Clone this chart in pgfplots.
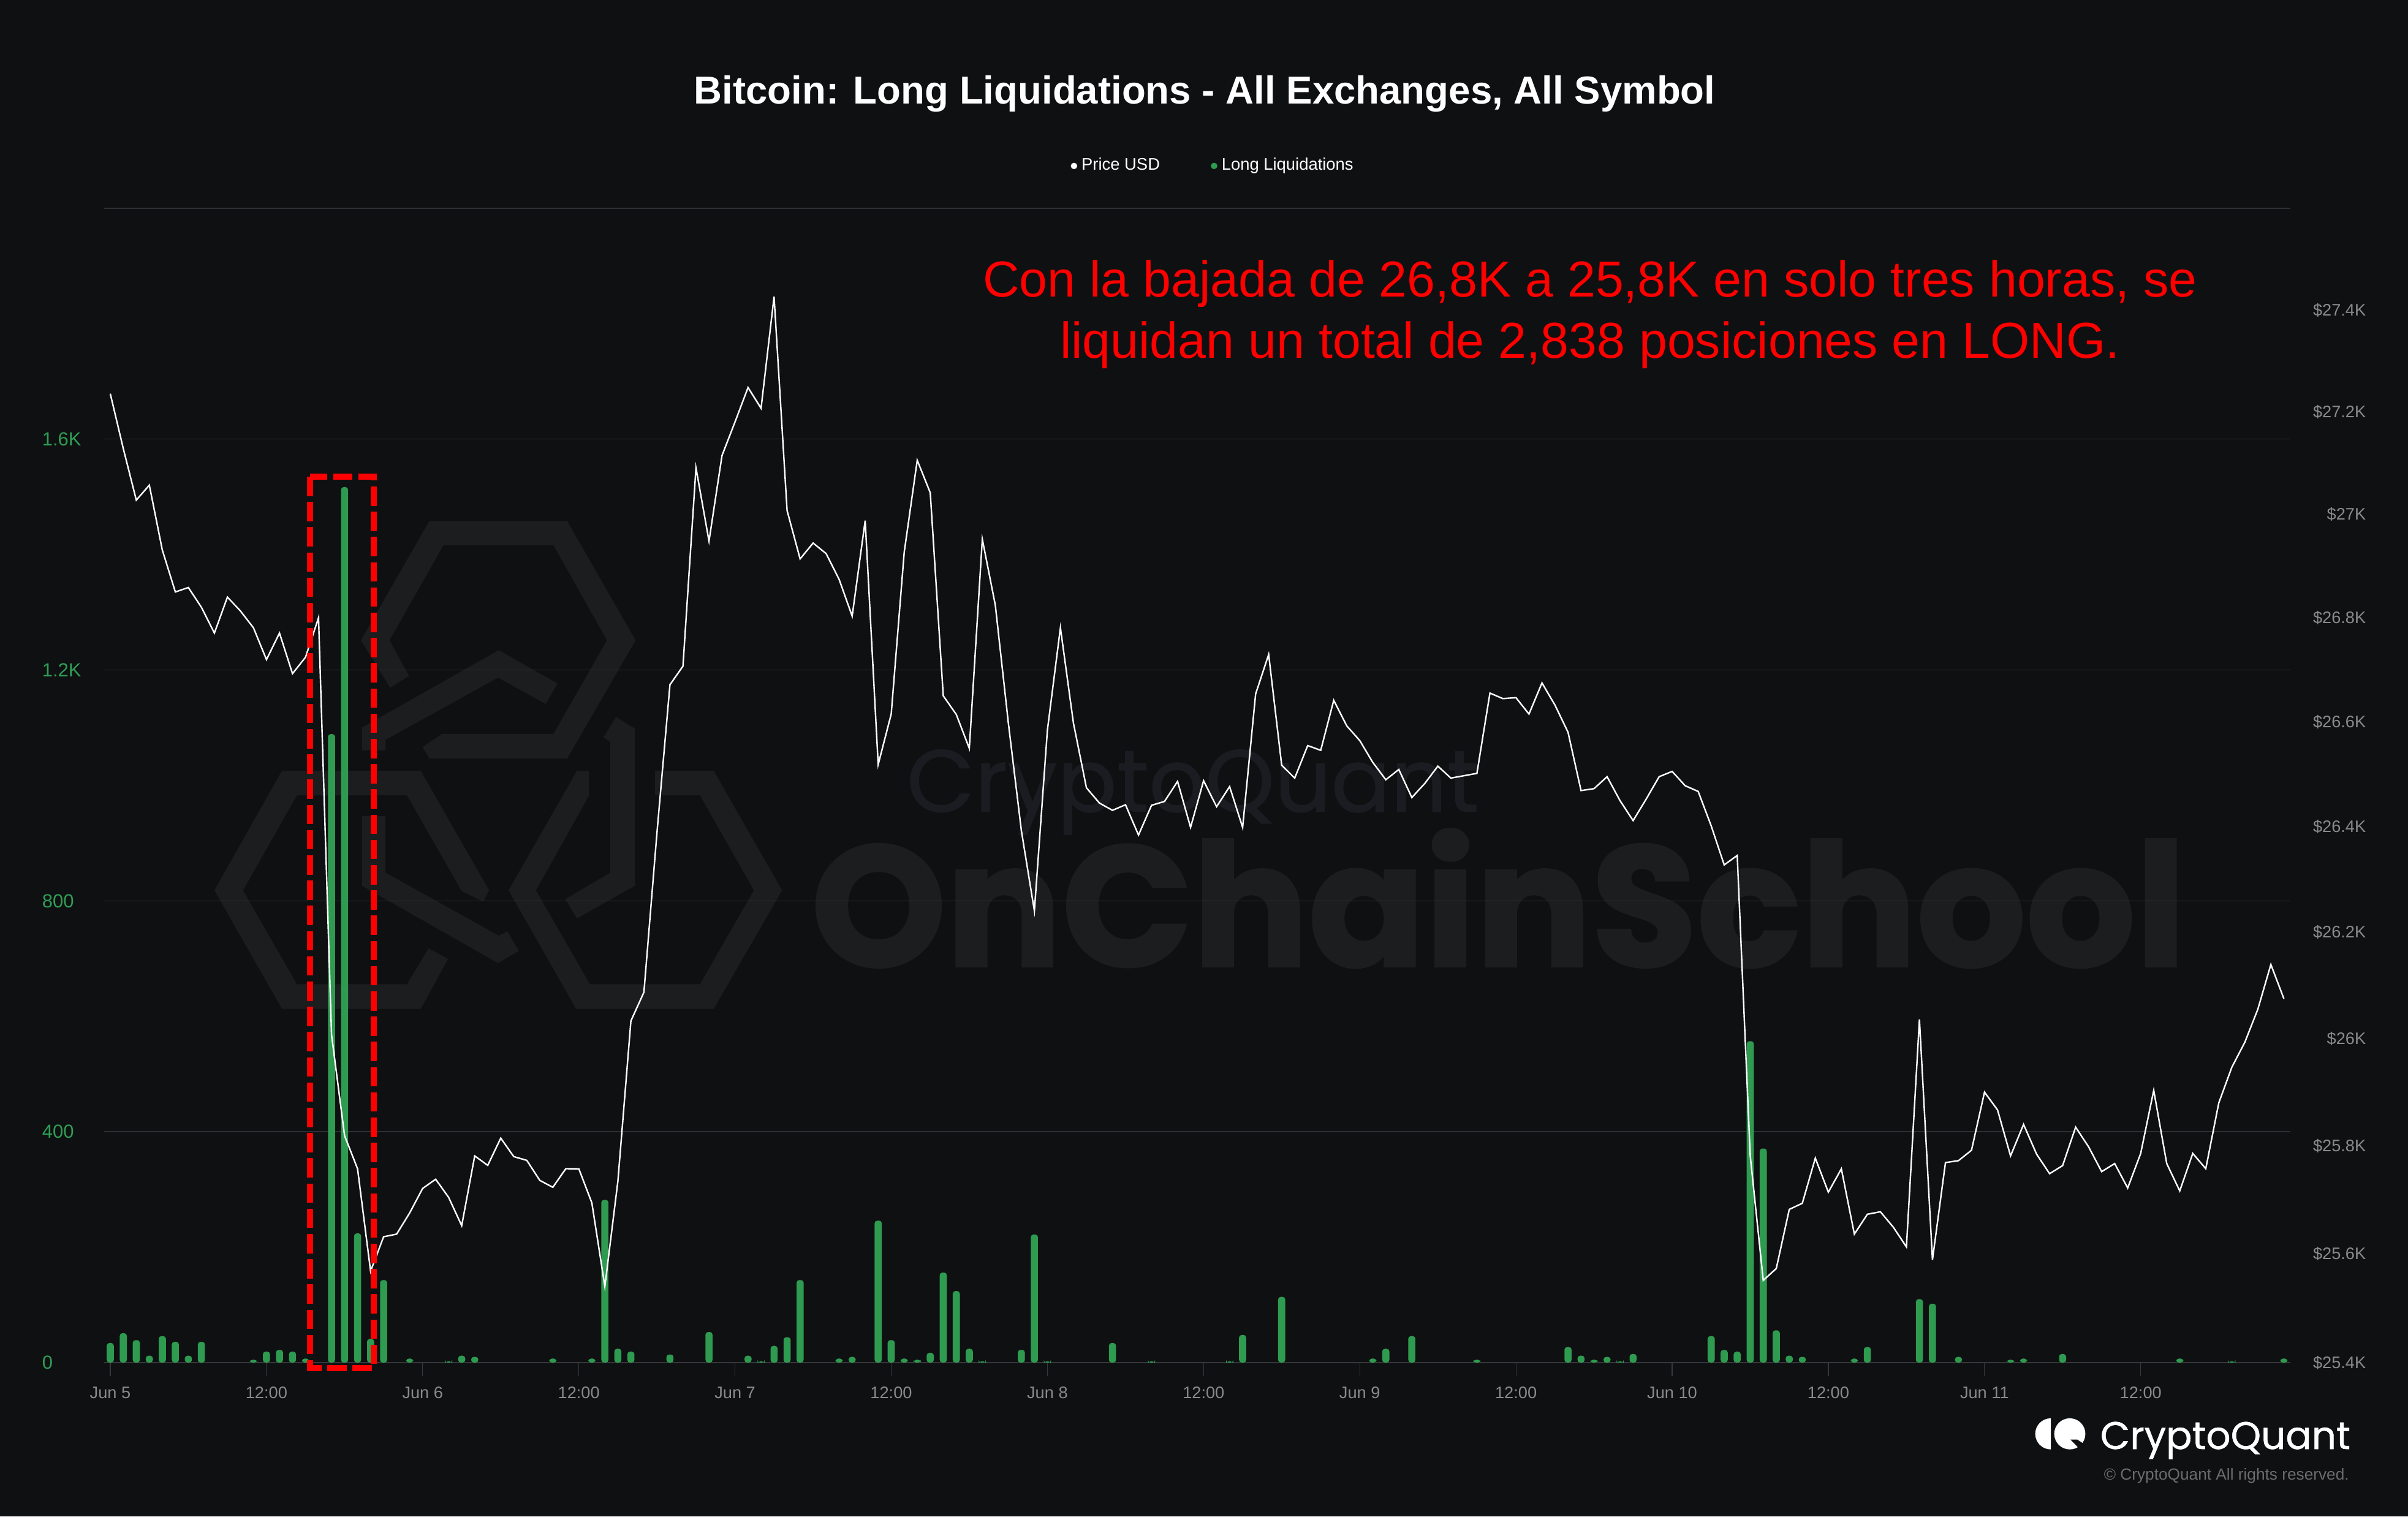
\documentclass[border=0pt]{standalone}
\usepackage{fontspec}
\usepackage{graphicx}
\usepackage{pgfplots}
\pgfplotsset{compat=1.18}
\setmainfont{Liberation Sans}
\newfontfamily\wmfont{Poppins}
\newfontfamily\wmmed[FakeBold=0.8]{Poppins}
\newfontfamily\wmheavy[BoldFeatures={FakeBold=1.5}]{Poppins}

\definecolor{bgcol}{HTML}{0F1012}
\definecolor{gridcol}{HTML}{2F3033}
\definecolor{axiscol}{HTML}{37383C}
\definecolor{barcol}{HTML}{2E9B50}
\definecolor{greentxt}{HTML}{2F9E55}
\definecolor{greytxt}{HTML}{8A8A8D}
\definecolor{wmcol}{HTML}{1C1D1F}
\definecolor{wmcol2}{HTML}{1B1C21}

\begin{document}
\begin{tikzpicture}
\fill[bgcol] (0,0) rectangle (982.5pt,618.75pt);
\useasboundingbox (0,0) rectangle (982.5pt,618.75pt);

% watermark, coordinates read off the zoomed crop
\begin{scope}[shift={(80pt,418.75pt)},x=0.1594pt,y=-0.1435pt]
\fill[wmcol] (422,427)--(597,88)--(950,88)--(1125,427)--(950,763)--(597,763)--(580,730)--(630,693)--(915,693)--(1052,427)--(915,157)--(633,157)--(495,427)--(545,528)--(497,562)--cycle;
\fill[wmcol] (425,675)--(775,455)--(925,550)--(895,608)--(773,533)--(485,710)--(485,740)--(425,740)--cycle;
\fill[wmcol] (47,1138)--(220,798)--(575,798)--(750,1138)--(735,1170)--(680,1140)--(540,868)--(258,868)--(120,1138)--(258,1405)--(540,1405)--(595,1303)--(645,1333)--(575,1475)--(220,1475)--cycle;
\fill[wmcol] (425,927)--(485,927)--(485,1088)--(775,1267)--(797,1255)--(826,1310)--(773,1345)--(425,1125)--cycle;
\fill[wmcol] (800,1138)--(975,798)--(1006,798)--(1006,868)--(870,1138)--(1008,1405)--(1290,1405)--(1428,1138)--(1290,868)--(1175,868)--(1175,798)--(1325,798)--(1500,1138)--(1325,1475)--(973,1475)--cycle;
\fill[wmcol] (1075,645)--(1123,678)--(1123,1125)--(975,1218)--(945,1163)--(1060,1088)--(1060,715)--(1043,703)--cycle;
\end{scope}

% pixel coordinates of the reference from here on
\begin{scope}[shift={(0,618.75pt)},x=0.25pt,y=-0.25pt]
\node[anchor=base west,inner sep=0,text=wmcol] at (1323,1577) {\resizebox{561pt}{56pt}{\wmheavy\bfseries OnChainSchool}};
\node[anchor=base west,inner sep=0,text=wmcol2] at (1479,1325) {\resizebox{233.5pt}{!}{\wmmed CryptoQuant}};
\end{scope}

% liquidations
\begin{axis}[
  at={(42.5pt,62.75pt)},anchor=south west,
  scale only axis,width=892pt,height=471pt,
  xmin=-0.47,xmax=167.5,ymin=0,ymax=2000,
  axis x line*=bottom,axis y line*=left,
  y axis line style={draw=none},
  x axis line style={draw=axiscol,line width=0.45pt,-},
  ymajorgrids,grid style={draw=gridcol,line width=0.35pt},
  ytick={0,400,800,1200,1600,2000},
  yticklabels={0,400,800,1.2K,1.6K,},
  ytick style={draw=none},
  xtick={0,12,...,156},
  xticklabels={Jun 5,12:00,Jun 6,12:00,Jun 7,12:00,Jun 8,12:00,Jun 9,12:00,Jun 10,12:00,Jun 11,12:00},
  xtick style={draw=axiscol,line width=0.3pt},
  tick align=outside,major tick length=5.6pt,
  tick label style={font=\fontsize{6.8}{8}\selectfont,inner sep=0pt},
  xticklabel style={text=greytxt,yshift=-4.2pt},
  yticklabel style={text=greentxt,anchor=west,xshift=-19.9pt,font=\fontsize{7.75}{9}\selectfont},
]
\addplot[ybar,bar width=2.9pt,bar shift=0pt,fill=barcol,draw=none,rounded corners=1.1pt] coordinates {
  (0,34) (1,51) (2,39) (3,12) (4,46) (5,36) (6,12) (7,36) (11,5) (12,19) (13,22) (14,19) (15,7)
  (17,1089) (18,1517) (19,224) (20,41) (21,143) (23,7) (26,2) (27,12) (28,10) (34,7) (37,7)
  (38,282) (39,24) (40,19) (43,14) (46,53) (49,12) (50,2) (51,29) (52,44) (53,143) (56,7) (57,10)
  (59,246) (60,39) (61,7) (62,5) (63,17) (64,156) (65,124) (66,24) (67,2) (70,22) (71,222) (72,2)
  (77,34) (80,2) (86,2) (87,48) (90,114) (97,7) (98,24) (100,46) (105,5) (112,27) (113,12) (114,5)
  (115,10) (116,2) (117,15) (123,46) (124,22) (125,19) (126,557) (127,371) (128,56) (129,12) (130,10)
  (134,7) (135,27) (139,110) (140,102) (142,10) (146,5) (147,7) (150,15) (159,7) (163,2) (167,7)
};
\end{axis}

% price on the right, log spaced like the reference (a real log axis overflows on so short a range)
\begin{axis}[
  at={(42.5pt,62.75pt)},anchor=south west,
  scale only axis,width=892pt,height=471pt,
  xmin=-0.47,xmax=167.5,
  y coord trafo/.code={\begingroup\pgfkeys{/pgf/fpu=true,/pgf/fpu/output format=fixed}\pgfmathparse{1000*ln(#1/25400)}\pgfmathsmuggle\pgfmathresult\endgroup},
  ymin=25400,ymax=27602,
  axis x line=none,axis y line*=right,
  y axis line style={draw=none},
  ytick={25400,25600,25800,26000,26200,26400,26600,26800,27000,27200,27400},
  yticklabels={\$25.4K,\$25.6K,\$25.8K,\$26K,\$26.2K,\$26.4K,\$26.6K,\$26.8K,\$27K,\$27.2K,\$27.4K},
  ytick style={draw=none},
  tick label style={font=\fontsize{6.8}{8}\selectfont,inner sep=0pt},
  yticklabel style={text=greytxt,anchor=east,xshift=31pt},
  legend columns=2,
  legend style={draw=none,fill=none,at={(0.508,1.0367)},anchor=center,
    font=\fontsize{6.85}{8}\selectfont,text=white,inner sep=0pt,
    /tikz/every even column/.append style={column sep=19pt}},
  legend cell align=left,
]
\addlegendimage{only marks,mark=*,mark size=1.1pt,white}
\addlegendentry{Price USD}
\addlegendimage{only marks,mark=*,mark size=1.1pt,barcol}
\addlegendentry{Long Liquidations}
\addplot[white,line width=0.6pt,forget plot] coordinates {
  (0,27236) (1,27128) (2,27028) (3,27057) (4,26931) (5,26850) (6,26858) (7,26820) (8,26770) (9,26840)
  (10,26813) (11,26780) (12,26719) (13,26770) (14,26692) (15,26724) (16,26800) (17,26007) (18,25819) (19,25757)
  (20,25568) (21,25632) (22,25636) (23,25675) (24,25721) (25,25738) (26,25704) (27,25652) (28,25781) (29,25764)
  (30,25814) (31,25780) (32,25773) (33,25736) (34,25723) (35,25758) (36,25757) (37,25694) (38,25540) (39,25734)
  (40,26033) (41,26087) (42,26388) (43,26671) (44,26707) (45,27091) (46,26948) (47,27115) (48,27181) (49,27248)
  (50,27207) (51,27427) (52,27008) (53,26914) (54,26944) (55,26924) (56,26874) (57,26803) (58,26988) (59,26518)
  (60,26615) (61,26927) (62,27105) (63,27042) (64,26650) (65,26614) (66,26549) (67,26952) (68,26824) (69,26598)
  (70,26392) (71,26240) (72,26584) (73,26780) (74,26598) (75,26474) (76,26445) (77,26431) (78,26441) (79,26384)
  (80,26440) (81,26448) (82,26486) (83,26399) (84,26487) (85,26438) (86,26476) (87,26399) (88,26653) (89,26729)
  (90,26517) (91,26492) (92,26554) (93,26545) (94,26641) (95,26592) (96,26564) (97,26523) (98,26489) (99,26509)
  (100,26455) (101,26482) (102,26515) (103,26492) (104,26497) (105,26501) (106,26655) (107,26644) (108,26646) (109,26615)
  (110,26674) (111,26632) (112,26580) (113,26469) (114,26472) (115,26495) (116,26449) (117,26411) (118,26452) (119,26495)
  (120,26505) (121,26478) (122,26467) (123,26401) (124,26327) (125,26345) (126,25781) (127,25551) (128,25573) (129,25682)
  (130,25693) (131,25777) (132,25714) (133,25757) (134,25636) (135,25673) (136,25678) (137,25649) (138,25613) (139,26036)
  (140,25589) (141,25769) (142,25772) (143,25792) (144,25900) (145,25867) (146,25781) (147,25840) (148,25785) (149,25748)
  (150,25763) (151,25835) (152,25798) (153,25752) (154,25767) (155,25722) (156,25786) (157,25904) (158,25767) (159,25716)
  (160,25786) (161,25758) (162,25880) (163,25946) (164,25993) (165,26055) (166,26139) (167,26075)
};
\end{axis}

\begin{scope}[shift={(0,618.75pt)},x=0.25pt,y=-0.25pt]
\node[anchor=base,inner sep=0,text=white,font=\fontsize{15.9}{18}\selectfont\bfseries] at (1966,170) {Bitcoin: Long Liquidations - All Exchanges, All Symbol};
\draw[red,line width=2.55pt,dash pattern=on 7.9pt off 2.4pt] (506,778) rectangle (610,2233);
\node[anchor=base,inner sep=0,text=red,font=\fontsize{20.63}{22}\selectfont] at (2595,485) {Con la bajada de 26,8K a 25,8K en solo tres horas, se};
\node[anchor=base,inner sep=0,text=red,font=\fontsize{20.63}{22}\selectfont] at (2595,585) {liquidan un total de 2,838 posiciones en LONG.};
% CryptoQuant mark
\begin{scope}
\clip (3320,2310) rectangle (3347,2370);
\fill[white] (3347,2340.3) circle (25.4);
\end{scope}
\fill[white] (3378,2340.3) circle (25.4);
\fill[bgcol] (3379,2349.5)--(3390,2349.5)--(3403,2358)--(3396,2367)--cycle;
\node[anchor=base west,inner sep=0,text=white] at (3427,2365) {\resizebox{102pt}{!}{\wmmed CryptoQuant}};
\node[anchor=base east,inner sep=0,text=greytxt!75!bgcol,font=\fontsize{6.56}{8}\selectfont] at (3834.5,2415) {© CryptoQuant All rights reserved.};
\end{scope}
\end{tikzpicture}
\end{document}
